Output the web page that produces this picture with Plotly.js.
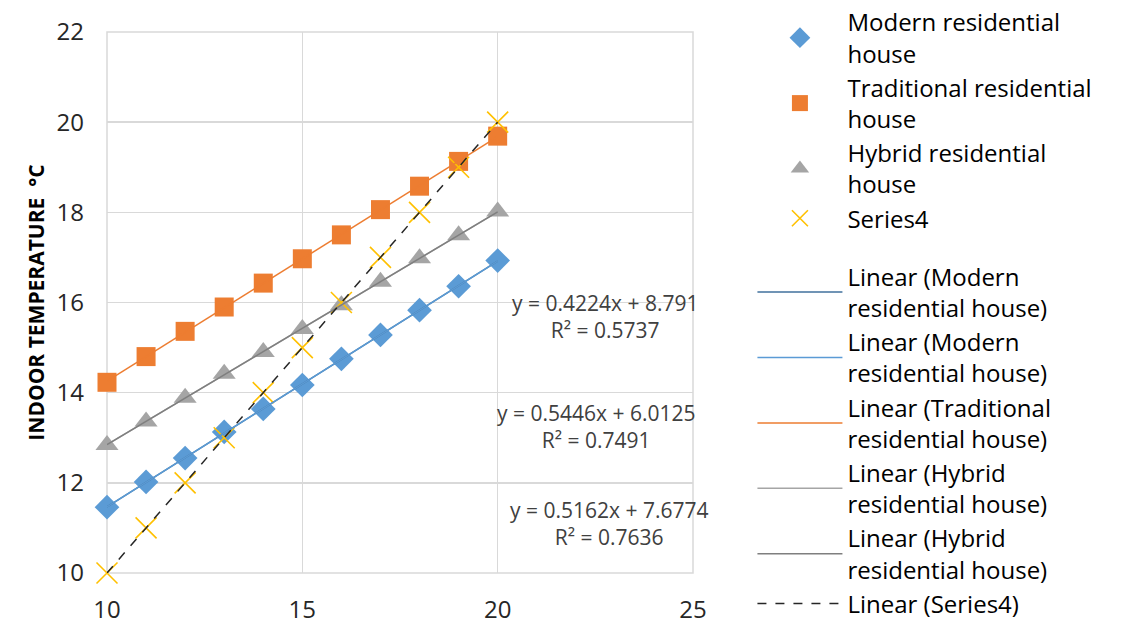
<!DOCTYPE html>
<html>
<head>
<meta charset="utf-8">
<script src="https://cdn.plot.ly/plotly-3.0.1.min.js"></script>
<style>html,body{margin:0;padding:0;background:#fff;}#chart{width:1147px;height:637px;}</style>
</head>
<body>
<div id="chart"></div>
<script>
// ---- data ----
const outdoorTemp = [10, 11, 12, 13, 14, 15, 16, 17, 18, 19, 20];
const modernHouse = [11.46, 12.02, 12.55, 13.13, 13.64, 14.17, 14.75, 15.28, 15.83, 16.36, 16.93];
const traditionalHouse = [14.23, 14.8, 15.36, 15.9, 16.43, 16.97, 17.5, 18.06, 18.58, 19.13, 19.69];
const hybridHouse = [12.84, 13.36, 13.89, 14.42, 14.9, 15.41, 15.94, 16.46, 16.98, 17.49, 18.02];
const series4 = [10, 11, 12, 13, 14, 15, 16, 17, 18, 19, 20];

const seriesNames = ['Modern residential<br>house', 'Traditional residential<br>house', 'Hybrid residential<br>house', 'Series4'];
const trendNames = ['Linear (Modern<br>residential house)', 'Linear (Modern<br>residential house)', 'Linear (Traditional<br>residential house)', 'Linear (Hybrid<br>residential house)', 'Linear (Hybrid<br>residential house)', 'Linear (Series4)'];
const equationTexts = ['y = 0.4224x + 8.791<br>R² = 0.5737', 'y = 0.5446x + 6.0125<br>R² = 0.7491', 'y = 0.5162x + 7.6774<br>R² = 0.7636'];
const equationX = [22.75, 22.52, 22.85];
const equationY = [15.7, 13.24, 11.09];
const yTitle = 'INDOOR TEMPERATURE\u00a0\u00a0°C';
const xTicks = [10, 15, 20, 25];

// ---- helpers ----
function linFit(x, y) {
  const n = x.length;
  let sx = 0, sy = 0, sxx = 0, sxy = 0;
  for (let i = 0; i < n; i++) { sx += x[i]; sy += y[i]; sxx += x[i]*x[i]; sxy += x[i]*y[i]; }
  const m = (n*sxy - sx*sy) / (n*sxx - sx*sx);
  const b = (sy - m*sx) / n;
  const x0 = Math.min(...x), x1 = Math.max(...x);
  return {x: [x0, x1], y: [m*x0 + b, m*x1 + b]};
}

const FONT = '"Open Sans", Lato, sans-serif';
const c = {blue: '#5b9bd5', darkBlue: '#41719c', orange: '#ed7d31', gray: '#a5a5a5', darkGray: '#7f7f7f', yellow: '#ffc000'};

const pts = [
  {y: modernHouse, sym: 'diamond', color: c.blue, size: 19},
  {y: traditionalHouse, sym: 'square', color: c.orange, size: 19},
  {y: hybridHouse, sym: 'triangle-up', color: c.gray, size: 20},
  {y: series4, sym: 'x-thin', color: c.yellow, size: 21}
];

const traces = pts.map((p, i) => ({
  type: 'scatter', mode: 'markers', x: outdoorTemp, y: p.y, name: seriesNames[i],
  legendgroup: 'pts', cliponaxis: false,
  marker: p.sym === 'x-thin'
    ? {symbol: 'x-thin', size: p.size, color: p.color, line: {color: p.color, width: 1.6}}
    : {symbol: p.sym, size: p.size, color: p.color, line: {width: 0}},
  hoverinfo: 'x+y'
}));

const trendSpecs = [
  {y: modernHouse, color: c.darkBlue, dash: 'solid'},
  {y: modernHouse, color: c.blue, dash: 'solid'},
  {y: traditionalHouse, color: c.orange, dash: 'solid'},
  {y: hybridHouse, color: c.gray, dash: 'solid'},
  {y: hybridHouse, color: c.darkGray, dash: 'solid'},
  {y: series4, color: '#262626', dash: 'dash'}
];
trendSpecs.forEach((t, i) => {
  const f = linFit(outdoorTemp, t.y);
  traces.push({
    type: 'scatter', mode: 'lines', x: f.x, y: f.y, name: trendNames[i],
    legendgroup: 'fit', cliponaxis: false,
    line: {color: t.color, width: 1.5, dash: t.dash},
    hoverinfo: 'skip'
  });
});

const annotations = equationTexts.map((t, i) => ({
  x: equationX[i], y: equationY[i], xref: 'x', yref: 'y', text: t, showarrow: false,
  font: {family: FONT, size: 21, color: '#404040'}, align: 'center'
}));

const layout = {
  width: 1147, height: 637,
  margin: {l: 107, r: 454, t: 32, b: 64},
  paper_bgcolor: '#ffffff', plot_bgcolor: '#ffffff',
  font: {family: FONT, color: '#262626'},
  xaxis: {
    range: [10, 25], tickvals: xTicks, ticktext: xTicks.map(String),
    showgrid: true, gridcolor: '#d9d9d9', gridwidth: 1.5, zeroline: false,
    showline: false, ticks: '', ticklabelstandoff: 20, automargin: false,
    tickfont: {family: FONT, size: 24, color: '#262626'}
  },
  yaxis: {
    range: [10, 22], dtick: 2, tick0: 10,
    showgrid: true, gridcolor: '#d9d9d9', gridwidth: 1.5, zeroline: false,
    showline: false, ticks: '', ticklabelstandoff: 22, automargin: false,
    tickfont: {family: FONT, size: 24, color: '#262626'},
    title: {text: yTitle, font: {family: FONT, size: 21, color: '#000000', weight: 'bold'}, standoff: 6}
  },
  shapes: [
    {type: 'rect', xref: 'paper', yref: 'paper', x0: 0, x1: 1, y0: 0, y1: 1, line: {color: '#d9d9d9', width: 1.5}, layer: 'below'}
  ],
  showlegend: true,
  legend: {
    xref: 'container', yref: 'container',
    x: 0.656, xanchor: 'left', y: 1.0, yanchor: 'top',
    font: {family: FONT, size: 24, color: '#000000'},
    itemwidth: 85, tracegroupgap: 24, bgcolor: 'rgba(0,0,0,0)',
    maxheight: 700
  },
  annotations: annotations
};

Plotly.newPlot('chart', traces, layout, {displayModeBar: false, staticPlot: true});
</script>
</body>
</html>
